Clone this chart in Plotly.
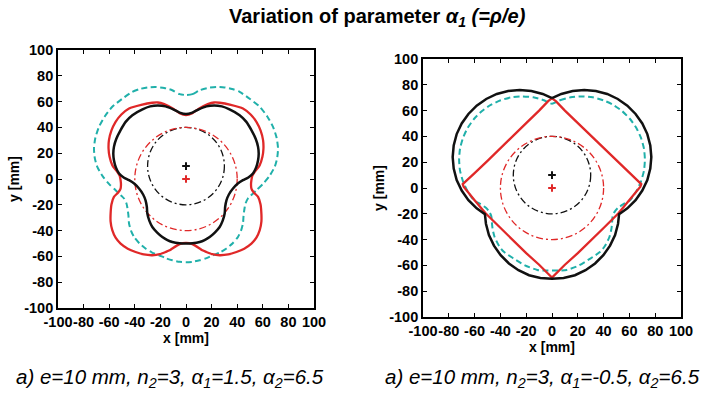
import plotly.graph_objects as go

# ---------------- data (mm) ----------------
# Left panel: alpha1 = 1.5
left_black_x = [0, 5, 10, 16, 22, 28, 34, 41.9, 47, 51.1, 54.5, 56.3, 56.8, 56.3, 54.8, 52.3, 48.7, 44.5, 40.5, 36.7, 33.5, 31.6, 30.6, 30.2, 28.6, 26.3, 22.5, 18.5, 14.5, 10.7, 5, 0,
                -5, -10.7, -14.5, -18.5, -22.5, -26.3, -28.6, -30.2, -30.6, -31.6, -33.5, -36.7, -40.5, -44.5, -48.7, -52.3, -54.8, -56.3, -56.8, -56.3, -54.5, -51.1, -47, -41.9, -34, -28, -22, -16, -10, -5, 0]
left_black_y = [50.3, 51.5, 54, 56.3, 57, 56.3, 54, 49.5, 44.5, 37.9, 31, 24.9, 19.5, 14.6, 9, 4.3, 1.2, -0.9, -3.5, -7.4, -12, -16.5, -21.5, -26.8, -32.5, -37.2, -41.5, -44.9, -47.3, -48.8, -49.8, -50,
                -49.8, -48.8, -47.3, -44.9, -41.5, -37.2, -32.5, -26.8, -21.5, -16.5, -12, -7.4, -3.5, -0.9, 1.2, 4.3, 9, 14.6, 19.5, 24.9, 31, 37.9, 44.5, 49.5, 54, 56.3, 57, 56.3, 54, 51.5, 50.3]

left_red_x = [0, 5, 10, 17, 22, 26.3, 35, 44.5, 50.5, 55, 58.3, 60.2, 60.5, 59.7, 57.5, 53.7, 51.8, 51.1, 50.8, 51.1, 53, 56.3, 58.2, 58.9, 58.9, 57.6, 55, 51.1, 45.5, 39.4, 33, 26.3, 20.5, 15.9, 12.8, 10.7, 5, 0,
              -5, -10.7, -12.8, -15.9, -20.5, -26.3, -33, -39.4, -45.5, -51.1, -55, -57.6, -58.9, -58.9, -58.2, -56.3, -53, -51.1, -50.8, -51.1, -51.8, -53.7, -57.5, -59.7, -60.5, -60.2, -58.3, -55, -50.5, -44.5, -35, -26.3, -22, -17, -10, -5, 0]
left_red_y = [49.5, 51, 54.5, 58, 59.3, 59.1, 57.5, 54.7, 50, 44.3, 37.5, 30.1, 23.5, 17.2, 10.5, 5.5, 2.5, -0.9, -4.5, -7.4, -10.5, -13.9, -19.5, -26.8, -33, -39.7, -45.5, -50.1, -54, -56.6, -58.5, -59.1, -58.3, -56.6, -55.3, -53.9, -50.5, -49.5,
              -50.5, -53.9, -55.3, -56.6, -58.3, -59.1, -58.5, -56.6, -54, -50.1, -45.5, -39.7, -33, -26.8, -19.5, -13.9, -10.5, -7.4, -4.5, -0.9, 2.5, 5.5, 10.5, 17.2, 23.5, 30.1, 37.5, 44.3, 50, 54.7, 57.5, 59.1, 59.3, 58, 54.5, 51, 49.5]

left_cyan_x = [0, 5, 10.7, 17, 23.7, 30, 36, 41.9, 50, 57.6, 63.5, 68, 70.8, 71.9, 71.2, 69.3, 65, 60, 55, 50.5, 48.4, 46.5, 45.9, 45, 44.5, 43, 40.6, 36.5, 31.6, 26.5, 21.1, 15.5, 10.7, 5, 0,
               -5, -10.7, -15.5, -21.1, -26.5, -31.6, -36.5, -40.6, -43, -44.5, -45, -45.9, -46.5, -48.4, -50.5, -55, -60, -65, -69.3, -71.2, -71.9, -70.8, -68, -63.5, -57.6, -50, -41.9, -36, -30, -23.7, -17, -10.7, -5, 0]
left_cyan_y = [65.1, 65.8, 68.8, 70.6, 71.3, 71, 69.8, 67.6, 62, 56, 48.5, 40.4, 32, 23.7, 16, 9.4, 2, -4, -8.7, -13, -15.1, -19, -21.7, -28, -34.5, -40, -44.9, -49.8, -53.9, -57, -59.1, -61.5, -63, -64.2, -64.5,
               -64.2, -63, -61.5, -59.1, -57, -53.9, -49.8, -44.9, -40, -34.5, -28, -21.7, -19, -15.1, -13, -8.7, -4, 2, 9.4, 16, 23.7, 32, 40.4, 48.5, 56, 62, 67.6, 69.8, 71, 71.3, 70.6, 68.8, 65.8, 65.1]

# Right panel: alpha1 = -0.5
right_black_x = [0, 7.2, 16, 25, 34, 42.8, 51, 58.4, 64.8, 70, 73.9, 76.2, 77, 76.2, 73.9, 70, 64.8, 58.4, 52, 51.2, 48.9, 45, 39.8, 33.4, 26, 17.8, 9, 0,
                 -9, -17.8, -26, -33.4, -39.8, -45, -48.9, -51.2, -52, -58.4, -64.8, -70, -73.9, -76.2, -77, -76.2, -73.9, -70, -64.8, -58.4, -51, -42.8, -34, -25, -16, -7.2, 0]
right_black_y = [69.6, 72.9, 75.2, 76, 75.2, 72.9, 69, 63.8, 57.4, 50, 41.8, 33, 24, 15, 6.2, -2, -9.4, -15.8, -20.3, -27.7, -36.5, -44.7, -52.1, -58.5, -63.7, -67.6, -69.7, -70.4,
                 -69.7, -67.6, -63.7, -58.5, -52.1, -44.7, -36.5, -27.7, -20.3, -15.8, -9.4, -2, 6.2, 15, 24, 33, 41.8, 50, 57.4, 63.8, 69, 72.9, 75.2, 76, 75.2, 72.9, 69.6]

right_cyan_x = [0, 6.2, 14.5, 23, 31.5, 39.8, 47.5, 54.5, 60.5, 65.4, 69, 71.3, 72, 71.3, 69, 65.4, 60.5, 55.4, 51, 48.5, 47, 46.5, 46, 44.5, 41, 37.3, 30, 21, 11.4, 5, 0,
                -5, -11.4, -21, -30, -37.3, -41, -44.5, -46, -46.5, -47, -48.5, -51, -55.4, -60.5, -65.4, -69, -71.3, -72, -71.3, -69, -65.4, -60.5, -54.5, -47.5, -39.8, -31.5, -23, -14.5, -6.2, 0]
right_cyan_y = [65.3, 68, 70.3, 71, 70.3, 68, 64.4, 59.5, 53.5, 46.5, 38.8, 30.5, 22, 13.5, 5.2, -2.5, -9.5, -12.5, -15.5, -18.5, -22, -28, -32, -38, -45, -49.5, -54.5, -60, -63.5, -64, -64,
                -64, -63.5, -60, -54.5, -49.5, -45, -38, -32, -28, -22, -18.5, -15.5, -12.5, -9.5, -2.5, 5.2, 13.5, 22, 30.5, 38.8, 46.5, 53.5, 59.5, 64.4, 68, 70.3, 71, 70.3, 68, 65.3]

right_red_x = [0, 3, 10, 20, 29.5, 40, 50, 60, 66, 69.2, 68.5, 60, 51.5, 40, 29.5, 20, 10, 3, 0,
               -3, -10, -20, -29.5, -40, -51.5, -60, -68.5, -69.2, -66, -60, -50, -40, -29.5, -20, -10, -3, 0]
right_red_y = [69.5, 67.3, 60, 50.3, 41.4, 31, 21, 11.5, 5.8, 3, 1, -9.5, -19.6, -31, -41.3, -50.5, -59.5, -66.5, -69.5,
               -66.5, -59.5, -50.5, -41.3, -31, -19.6, -9.5, 1, 3, 5.8, 11.5, 21, 31, 41.4, 50.3, 60, 67.3, 69.5]

# dash-dot circles (same in both panels): centre x, centre y, radius
circle_cx = [0, 0]
circle_cy = [10, 0]
circle_r = [30, 40]

# centre crosses
cross_x = [0, 0]
cross_y = [10, 0]

tick_vals = [-100, -80, -60, -40, -20, 0, 20, 40, 60, 80, 100]
tick_text = [str(v) for v in tick_vals]

BLACK = "#111111"
RED = "#e02828"
CYAN = "#20b0aa"
mark_colors = [BLACK, RED]
FONT = "Liberation Sans, Arial, sans-serif"

fig = go.Figure()

panels = [
    ("x", "y", left_cyan_x, left_cyan_y, left_red_x, left_red_y, left_black_x, left_black_y, "spline", "spline"),
    ("x2", "y2", right_cyan_x, right_cyan_y, right_red_x, right_red_y, right_black_x, right_black_y, "linear", "linear"),
]
for xa, ya, cx, cy, rx, ry, bx, by, red_shape, black_shape in panels:
    fig.add_trace(go.Scatter(x=cx, y=cy, mode="lines", xaxis=xa, yaxis=ya,
                             line=dict(color=CYAN, width=2, dash="6px,3.5px", shape="spline", smoothing=0.6),
                             showlegend=False, hoverinfo="skip"))
    fig.add_trace(go.Scatter(x=rx, y=ry, mode="lines", xaxis=xa, yaxis=ya,
                             line=dict(color=RED, width=2.3, shape=red_shape, smoothing=0.6),
                             showlegend=False, hoverinfo="skip"))
    fig.add_trace(go.Scatter(x=bx, y=by, mode="lines", xaxis=xa, yaxis=ya,
                             line=dict(color=BLACK, width=2.5, shape=black_shape, smoothing=0.6),
                             showlegend=False, hoverinfo="skip"))
    for k in range(len(cross_x)):
        fig.add_trace(go.Scatter(x=[cross_x[k]], y=[cross_y[k]], mode="markers", xaxis=xa, yaxis=ya,
                                 marker=dict(symbol="cross-thin", size=5.5,
                                             line=dict(color=mark_colors[k], width=2)),
                                 showlegend=False, hoverinfo="skip"))
    for k in range(len(circle_cx)):
        fig.add_shape(type="circle", xref=xa, yref=ya,
                      x0=circle_cx[k] - circle_r[k], x1=circle_cx[k] + circle_r[k],
                      y0=circle_cy[k] - circle_r[k], y1=circle_cy[k] + circle_r[k],
                      line=dict(color=mark_colors[k], width=1.3, dash="7px,3px,2px,3px"),
                      layer="below")

axis_common = dict(range=[-100, 100], tickmode="array", tickvals=tick_vals, ticktext=tick_text,
                   ticks="inside", ticklen=4, tickwidth=1.2, tickcolor="black", tickangle=0,
                   showline=True, linecolor="black", linewidth=1.7, mirror="ticks",
                   showgrid=False, zeroline=False, automargin=False,
                   tickfont=dict(family=FONT, size=14.5, color="black", weight="bold"))

title_font = dict(family=FONT, size=14, color="black", weight="bold")

W, H = 716, 393
def px_dom_x(a, b):
    return [a / W, b / W]
def px_dom_y(top, bottom):
    return [(H - bottom) / H, (H - top) / H]

fig.update_layout(
    width=W, height=H, margin=dict(l=0, r=0, t=0, b=0),
    paper_bgcolor="white", plot_bgcolor="white",
    xaxis=dict(domain=px_dom_x(58, 314), anchor="y",
               title=dict(text="x [mm]", font=title_font, standoff=0), **axis_common),
    yaxis=dict(domain=px_dom_y(50, 308), anchor="x",
               title=dict(text="y [mm]", font=title_font, standoff=1), **axis_common),
    xaxis2=dict(domain=px_dom_x(423, 681), anchor="y2",
                title=dict(text="x [mm]", font=title_font, standoff=0), **axis_common),
    yaxis2=dict(domain=px_dom_y(59, 317), anchor="x2",
                title=dict(text="y [mm]", font=title_font, standoff=1), **axis_common),
)

def ann(text, xpx, ypx, size):
    fig.add_annotation(text=text, xref="paper", yref="paper", x=xpx / W, y=(H - ypx) / H,
                       xanchor="center", yanchor="middle", showarrow=False,
                       font=dict(family=FONT, size=size, color="black"))

ann("<b>Variation of parameter <i>α<sub>1</sub> (=ρ/e)</i></b>", 377, 17, 20)
ann("<i>a) e=10 mm, n<sub>2</sub>=3, α<sub>1</sub>=1.5, α<sub>2</sub>=6.5</i>", 170, 378, 20.5)
ann("<i>a) e=10 mm, n<sub>2</sub>=3, α<sub>1</sub>=-0.5, α<sub>2</sub>=6.5</i>", 542, 378, 20.5)

fig.write_html("out.html")
